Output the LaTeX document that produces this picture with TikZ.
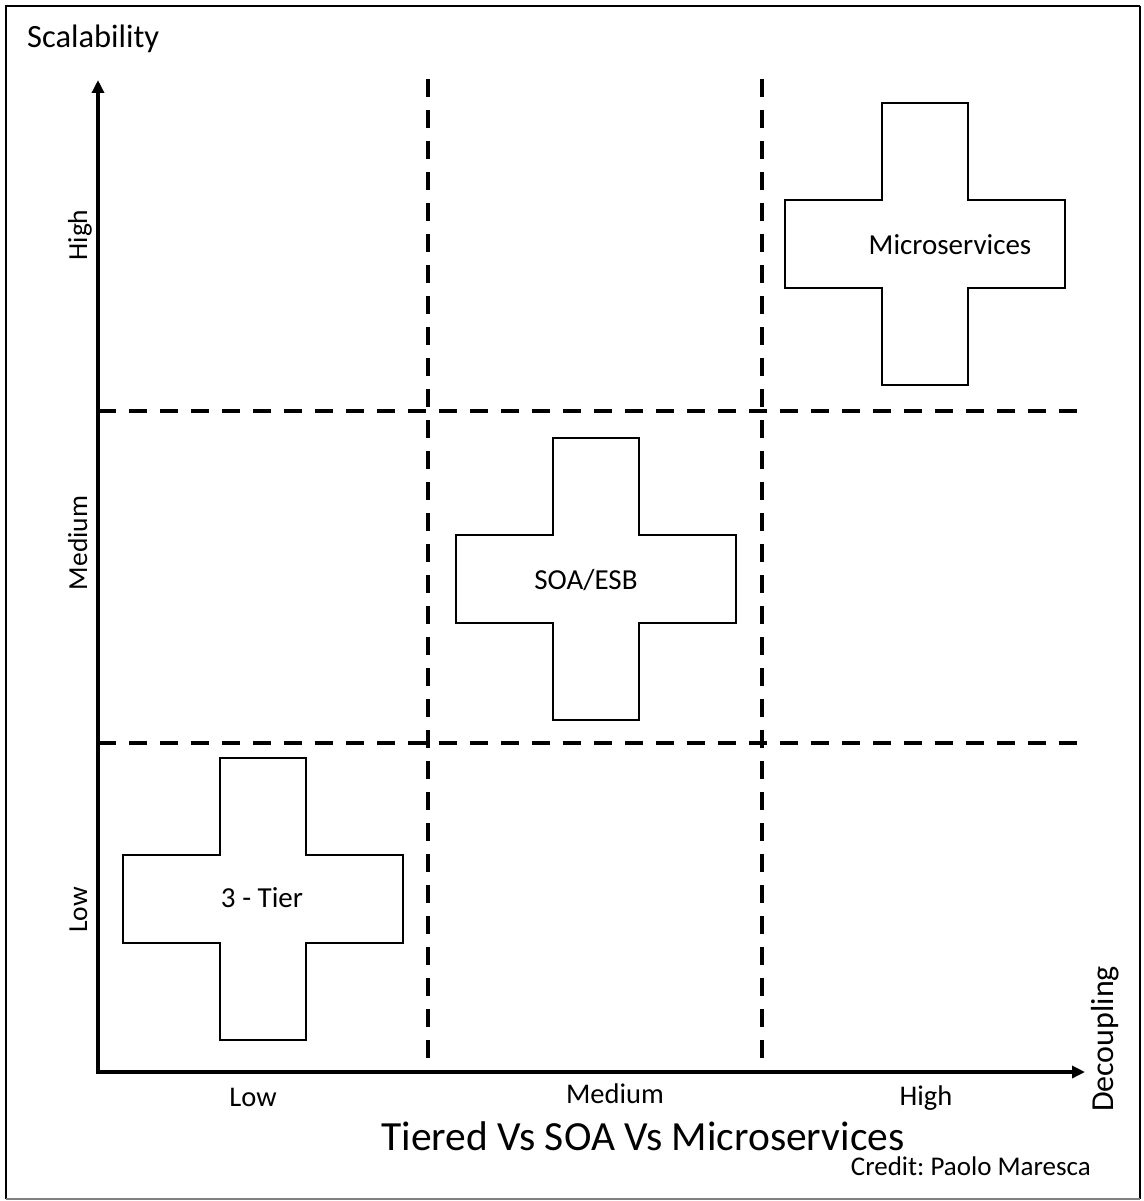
\documentclass[tikz,border=0pt]{standalone}
\usepackage{fontspec}
\setmainfont{Carlito}
\usetikzlibrary{arrows.meta}
\tikzset{
  plusshape/.pic={\draw[crossline] (-43,-141) -- (43,-141) -- (43,-44) -- (140,-44) -- (140,44) -- (43,44) -- (43,141) -- (-43,141) -- (-43,44) -- (-140,44) -- (-140,-44) -- (-43,-44) -- cycle;}
}
\begin{document}
\begin{tikzpicture}[x=1pt,y=-1pt,
  axis/.style={line width=4pt,-{Triangle[length=13pt,width=12pt]}},
  gridline/.style={line width=4pt,dash pattern=on 18pt off 13pt},
  crossline/.style={line width=2pt},
  lbl/.style={font=\fontsize{28.5}{32}\selectfont,inner sep=0pt},
  ylbl/.style={font=\fontsize{27.5}{32}\selectfont,inner sep=0pt,anchor=base,rotate=90},
  inlbl/.style={font=\fontsize{29}{33}\selectfont,inner sep=0pt},
]
\useasboundingbox (0,0) rectangle (1143,1201);
% frame
\draw[line width=2.5pt] (6,1199) -- (6,6) -- (1140,6);
\draw[line width=2pt] (1140,6) -- (1140,1199);
\draw[line width=2pt,gray] (1140,1199) -- (6,1199);
% grid
\coordinate (v1t) at (428,79); \coordinate (v1b) at (428,1072);
\coordinate (v2t) at (762,79); \coordinate (v2b) at (762,1072);
\coordinate (h1l) at (98,411); \coordinate (h1r) at (1085,411);
\coordinate (h2l) at (98,743); \coordinate (h2r) at (1085,743);
\draw[gridline] (v1t) -- (v1b);
\draw[gridline] (v2t) -- (v2b);
\draw[gridline] (h1l) -- (h1r);
\draw[gridline] (h2l) -- (h2r);
% axes
\coordinate (ybase) at (98,1074);
\coordinate (xbase) at (96,1072);
\coordinate (ytip) at (98,80);
\coordinate (xtip) at (1085,1072);
\draw[axis] (ybase) -- (ytip);
\draw[axis] (xbase) -- (xtip);
% crosses
\pic (micro) at (925,244) {plusshape};
\pic (soa) at (596,579) {plusshape};
\pic (tier) at (263,899) {plusshape};
\node[inlbl] (microlbl) at (950,245) {Microservices};
\node[inlbl] (soalbl) at (586,580) {SOA/ESB};
\node[inlbl] (tierlbl) at (262,898) {3 - Tier};
% labels
\node[anchor=base west,inner sep=0pt,font=\fontsize{32.5}{38}\selectfont] (scal) at (27,48) {Scalability};
\node[ylbl] (yhigh) at (87,235) {High};
\node[ylbl] (ymed) at (87,543) {Medium};
\node[ylbl] (ylow) at (87,910) {Low};
\node[lbl,anchor=base] (xlow) at (253,1106) {Low};
\node[lbl,anchor=base] (xmed) at (615,1103) {Medium};
\node[lbl,anchor=base] (xhigh) at (926,1105) {High};
\node[anchor=base,rotate=90,inner sep=0pt,font=\fontsize{32}{38}\selectfont] (decoup) at (1113,1039) {Decoupling};
\node[anchor=base,inner sep=0pt,font=\fontsize{41.5}{50}\selectfont] (title) at (643,1150) {Tiered Vs SOA Vs Microservices};
\node[anchor=base east,inner sep=0pt,font=\fontsize{27}{32}\selectfont\frenchspacing] (credit) at (1091,1175) {Credit: Paolo Maresca};
\end{tikzpicture}
\end{document}
